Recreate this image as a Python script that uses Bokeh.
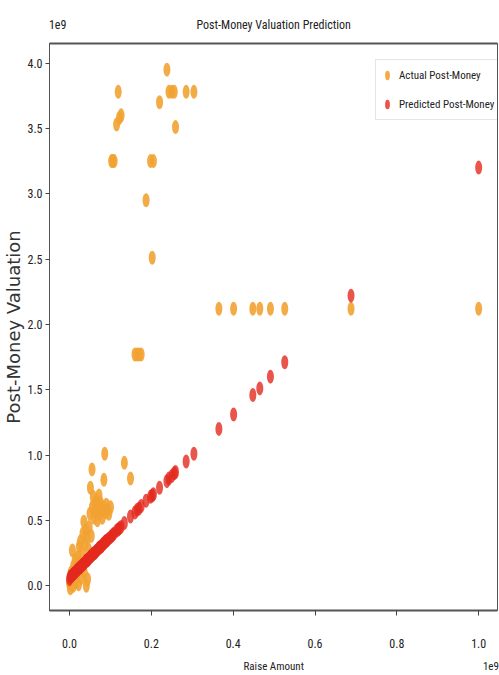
from bokeh.plotting import figure
from bokeh.models import (ColumnDataSource, FixedTicker, NumeralTickFormatter, Legend,
                          LegendItem, LinearAxis, Range1d)
from bokeh.embed import file_html
from bokeh.resources import INLINE

# values in units of 1e9
raise_amount = [0.000, 0.002, 0.004, 0.006, 0.007, 0.009, 0.010, 0.012, 0.014, 0.016,
                0.018, 0.020, 0.022, 0.024, 0.026, 0.027, 0.029, 0.031, 0.033, 0.035,
                0.036, 0.038, 0.040, 0.041, 0.043, 0.044, 0.046, 0.048, 0.050, 0.051,
                0.053, 0.055, 0.056, 0.058, 0.060, 0.062, 0.064, 0.066, 0.068, 0.070,
                0.072, 0.074, 0.076, 0.078, 0.080, 0.082, 0.084, 0.086, 0.088, 0.090,
                0.093, 0.096, 0.100, 0.103, 0.106, 0.109, 0.115, 0.119, 0.122, 0.126,
                0.134, 0.149, 0.160, 0.165, 0.170, 0.175, 0.187, 0.198, 0.202, 0.205,
                0.220, 0.238, 0.243, 0.250, 0.256, 0.259, 0.285, 0.304, 0.365, 0.401,
                0.448, 0.465, 0.491, 0.526, 0.688, 1.000]
actual_post = [0.02, -0.02, 0.10, 0.05, 0.27, 0.00, 0.15, 0.08, 0.20, 0.03,
               0.12, 0.22, 0.01, 0.30, 0.18, 0.34, 0.06, 0.25, 0.40, 0.49,
               0.10, 0.32, 0.42, 0.00, 0.37, 0.05, 0.28, 0.45, 0.55, 0.75,
               0.38, 0.89, 0.60, 0.68, 0.52, 0.62, 0.57, 0.65, 0.50, 0.60,
               0.69, 0.55, 0.63, 0.58, 0.52, 0.60, 0.81, 1.01, 0.56, 0.62,
               0.58, 0.55, 0.60, 3.25, 3.25, 3.25, 3.53, 3.78, 3.58, 3.60,
               0.94, 0.82, 1.77, 1.77, 1.77, 1.77, 2.95, 3.25, 2.51, 3.25,
               3.70, 3.95, 3.78, 3.78, 3.78, 3.51, 3.78, 3.78, 2.12, 2.12,
               2.12, 2.12, 2.12, 2.12, 2.12, 2.12]
predicted_post = [0.05, 0.07, 0.07, 0.08, 0.08, 0.09, 0.09, 0.10, 0.10, 0.11,
                  0.12, 0.12, 0.13, 0.14, 0.14, 0.14, 0.15, 0.16, 0.16, 0.17,
                  0.17, 0.18, 0.19, 0.19, 0.19, 0.20, 0.20, 0.21, 0.22, 0.22,
                  0.23, 0.23, 0.24, 0.24, 0.25, 0.25, 0.26, 0.27, 0.27, 0.28,
                  0.29, 0.29, 0.30, 0.30, 0.31, 0.32, 0.32, 0.33, 0.34, 0.34,
                  0.35, 0.36, 0.37, 0.38, 0.39, 0.40, 0.42, 0.43, 0.44, 0.45,
                  0.48, 0.53, 0.56, 0.58, 0.59, 0.61, 0.65, 0.68, 0.69, 0.70,
                  0.75, 0.80, 0.82, 0.84, 0.86, 0.87, 0.95, 1.01, 1.20, 1.31,
                  1.46, 1.51, 1.60, 1.71, 2.22, 3.20]
x_ticks = [0.0, 0.2, 0.4, 0.6, 0.8, 1.0]
y_ticks = [0.0, 0.5, 1.0, 1.5, 2.0, 2.5, 3.0, 3.5, 4.0]
title_text = "Post-Money Valuation Prediction"
x_label = "Raise Amount"
y_label = "Post-Money Valuation"
offset_text = "1e9"
# horizontal anchors (data units) of the texts placed on the extra axes
title_pos, top_offset_pos, xlabel_pos, bottom_offset_pos = 0.499, -0.029, 0.499, 1.03

ORANGE = "#F2A232"
RED = "#E4291E"
TXT = "#222222"
NARROW = "Roboto Condensed"

src = ColumnDataSource(dict(x=raise_amount, a=actual_post, p=predicted_post))

p = figure(width=499, height=675, output_backend="svg", toolbar_location=None,
           x_range=Range1d(-0.049, 1.046), y_range=Range1d(-0.19, 4.15),
           min_border_left=49, min_border_right=2, min_border_top=43, min_border_bottom=62)
p.background_fill_color = "white"
p.border_fill_color = "white"
p.grid.visible = False
p.outline_line_color = "#555555"
p.outline_line_width = 1

r1 = p.ellipse("x", "a", source=src, width=7, height=14, width_units="screen",
               height_units="screen", fill_color=ORANGE, fill_alpha=0.9, line_color=None)
r2 = p.ellipse("x", "p", source=src, width=7, height=14, width_units="screen",
               height_units="screen", fill_color=RED, fill_alpha=0.8, line_color=None)

for ax in (p.xaxis[0], p.yaxis[0]):
    ax.major_label_text_font = NARROW
    ax.major_label_text_font_size = "12px"
    ax.major_label_text_color = TXT
    ax.minor_tick_line_color = None
    ax.major_tick_in = 0
    ax.major_tick_line_color = "#444444"
    ax.axis_line_color = "#555555"
    ax.formatter = NumeralTickFormatter(format="0.0")

p.xaxis.ticker = FixedTicker(ticks=x_ticks)
p.yaxis.ticker = FixedTicker(ticks=y_ticks)
p.xaxis.major_tick_out = 5
p.xaxis.axis_line_width = 2
p.xaxis.major_label_standoff = 23

p.yaxis.major_tick_out = 4
p.yaxis.major_label_standoff = 3
p.yaxis.axis_label = y_label
p.yaxis.axis_label_text_font = "DejaVu Sans"
p.yaxis.axis_label_text_font_size = "18px"
p.yaxis.axis_label_text_font_style = "normal"
p.yaxis.axis_label_text_color = "#333333"
p.yaxis.axis_label_standoff = 0

# top: spine + title + offset text
top_axis = LinearAxis(ticker=FixedTicker(ticks=[top_offset_pos, title_pos]),
                      major_label_overrides={top_offset_pos: offset_text, title_pos: title_text},
                      major_label_text_font=NARROW, major_label_text_font_size="12px",
                      major_label_text_color=TXT, major_tick_line_color=None,
                      minor_tick_line_color=None, axis_line_width=2, axis_line_color="#555555",
                      major_label_standoff=6)
p.add_layout(top_axis, "above")

# bottom: x label + offset text
bottom_axis = LinearAxis(ticker=FixedTicker(ticks=[xlabel_pos, bottom_offset_pos]),
                         major_label_overrides={xlabel_pos: x_label, bottom_offset_pos: offset_text},
                         major_label_text_font=NARROW, major_label_text_font_size="11px",
                         major_label_text_color=TXT, major_tick_line_color=None,
                         minor_tick_line_color=None, axis_line_color=None,
                         major_label_standoff=3)
p.add_layout(bottom_axis, "below")

legend = Legend(items=[LegendItem(label="Actual Post-Money", renderers=[r1]),
                       LegendItem(label="Predicted Post-Money", renderers=[r2])],
                location=(326, 490), label_text_font=NARROW, label_text_font_size="11px",
                label_text_color=TXT, glyph_width=12, glyph_height=20, spacing=9,
                padding=5, margin=0, label_standoff=6,
                border_line_color="#cccccc", border_line_width=1,
                background_fill_alpha=0.8)
p.add_layout(legend)

open("out.html", "w").write(file_html(p, INLINE))
